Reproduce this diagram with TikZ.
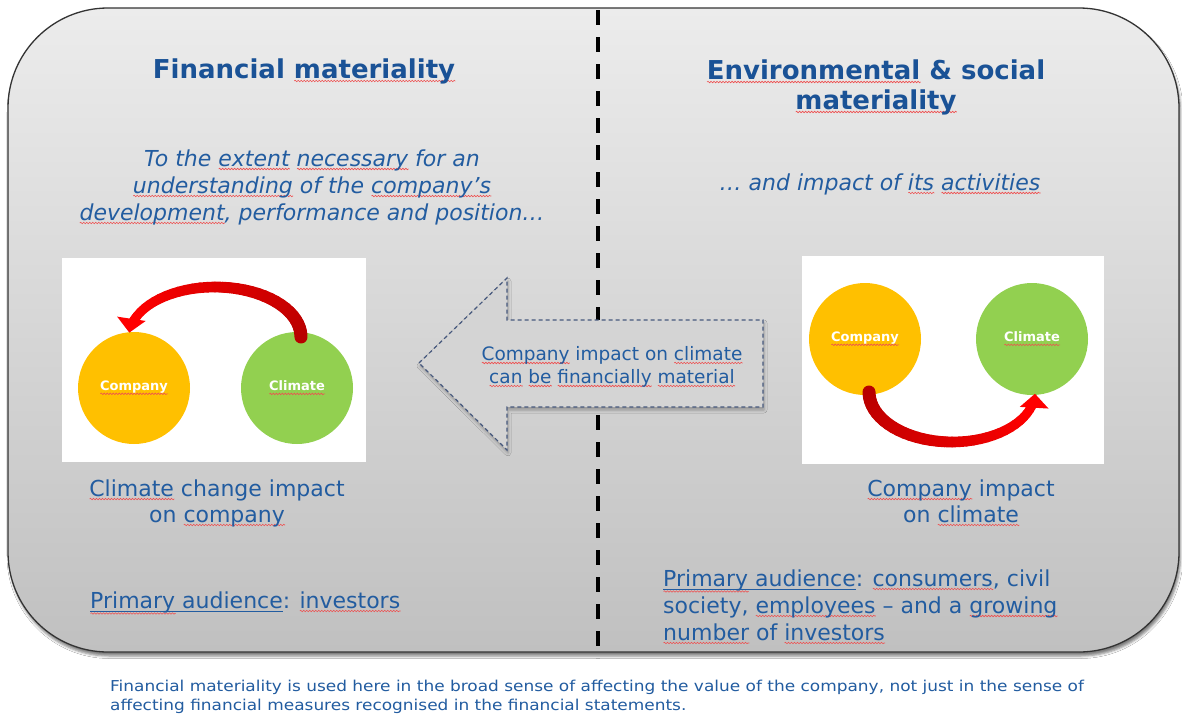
\documentclass[tikz,border=0pt]{standalone}
\usepackage{fontspec}
\setmainfont{DejaVu Sans}[ItalicFont={DejaVu Sans Oblique},BoldFont={DejaVu Sans Bold},BoldItalicFont={DejaVu Sans Bold Oblique}]
\newfontfamily\footfont{DejaVu Sans}[FakeStretch=1.13]
\usetikzlibrary{shadows.blur,arrows.meta,decorations.pathmorphing}
\definecolor{titleblue}{RGB}{26,82,150}
\definecolor{txtblue}{RGB}{34,92,160}
\definecolor{sqred}{RGB}{238,80,80}
\definecolor{bgtop}{RGB}{236,236,236}
\definecolor{bgbot}{RGB}{192,192,192}
\definecolor{arrowfill}{RGB}{212,212,212}
\definecolor{arrowline}{RGB}{70,88,125}
\definecolor{compfill}{RGB}{255,192,0}
\definecolor{climfill}{RGB}{146,208,80}
\newsavebox\sqtmp
\newlength\sqlen
\tikzset{sqline/.style={draw=sqred, fill=none, line width=0.6pt, decorate,
  decoration={snake, amplitude=0.75pt, segment length=3pt}}}
\newcommand\sqat[2]{\begingroup\sbox\sqtmp{#2}\setlength\sqlen{\wd\sqtmp}%
  \rlap{\tikz[baseline=0pt]{\draw[sqline] (0pt,-#1) -- (\sqlen,-#1);}}\usebox\sqtmp\endgroup}
\newcommand\sq[1]{\sqat{3pt}{#1}}
\newcommand\ulin[1]{\begingroup\sbox\sqtmp{#1}\rlap{\vrule height -2.6pt depth 3.8pt width \wd\sqtmp}\usebox\sqtmp\endgroup}
\tikzset{
  ttl/.style={font=\fontsize{26}{30}\selectfont\bfseries, text=titleblue, anchor=base, inner sep=0pt},
  itx/.style={font=\fontsize{22}{27}\selectfont\itshape, text=txtblue, anchor=base, inner sep=0pt},
  rtx/.style={font=\fontsize{22}{27}\selectfont, text=txtblue, anchor=base, inner sep=0pt},
  ltx/.style={rtx, anchor=base west},
  atx/.style={font=\fontsize{18.5}{23}\selectfont, text=txtblue, anchor=base, inner sep=0pt},
  ftx/.style={font=\footfont\fontsize{15}{19}\selectfont, text=txtblue, anchor=base west, inner sep=0pt},
  imgbox/.style={fill=white, draw=none},
  ball/.style={circle, minimum size=112pt, inner sep=0pt, text=white, font=\fontsize{13}{15}\selectfont\bfseries},
}
\begin{document}
\begin{tikzpicture}[x=1pt,y=-1pt]
\useasboundingbox (0,0) rectangle (1182,715);
\fill[white] (0,0) rectangle (1182,715);
% main panel
\draw[draw=black!80, line width=1.3pt, rounded corners=100pt, top color=bgtop, bottom color=bgbot,
      blur shadow={shadow xshift=1.5pt, shadow yshift=-4pt, shadow blur radius=2.5pt, shadow opacity=50}]
  (8,8) rectangle (1179,652);
% divider
\coordinate (dtop) at (598,10);
\coordinate (dbot) at (598,658);
\draw[line width=3.5pt, dash pattern=on 15pt off 12pt] (dtop) -- (dbot);
% titles
\node[ttl] (t1) at (304,78) {Financial \sq{materiality}};
\node[ttl] (t2a) at (876,79) {\sq{Environmental} \& social};
\node[ttl] (t2b) at (876,109) {\sq{materiality}};
% italic texts
\node[itx] (i1) at (312,166) {To the \sq{extent} \sq{necessary} for an};
\node[itx] (i2) at (312,193) {\sq{understanding} of the \sq{company’s}};
\node[itx] (i3) at (312,220) {\sq{development}, performance and position…};
\node[itx] (i4) at (880,190) {… and impact of \sq{its} \sq{activities}};
% image boxes
\fill[imgbox] (62,258) rectangle (366,462);
\fill[imgbox] (802,256) rectangle (1104,464);
% left diagram
\node[ball, fill=compfill] (lcomp) at (134,388) {\sq{Company}};
\node[ball, fill=climfill] (lclim) at (297,388) {\sq{Climate}};
\foreach \i in {0,...,31}{
  \pgfmathsetmacro\ta{-5*\i}
  \pgfmathsetmacro\tb{-5*\i-5}
  \pgfmathtruncatemacro\p{72+28*\i/31}
  \pgfmathsetmacro\w{13-4*\i/31}
  \draw[line width=\w pt, draw={red!\p!black}, line cap=round]
    ({215+86*cos(\ta)},{337+50*sin(\ta)}) -- ({215+86*cos(\tb)},{337+50*sin(\tb)});
}
\draw[line width=9pt, red, -{Triangle[width=28pt,length=14pt]}]
  ({215+86*cos(-155)},{337+50*sin(-155)}) arc[start angle=-155, end angle=-175, x radius=86, y radius=50];
% right diagram
\node[ball, fill=compfill] (rcomp) at (865,339) {\sq{Company}};
\node[ball, fill=climfill] (rclim) at (1032,339) {\sq{Climate}};
\foreach \i in {0,...,31}{
  \pgfmathsetmacro\ta{180-5*\i}
  \pgfmathsetmacro\tb{180-5*\i-5}
  \pgfmathtruncatemacro\p{72+28*\i/31}
  \pgfmathsetmacro\w{13-4*\i/31}
  \draw[line width=\w pt, draw={red!\p!black}, line cap=round]
    ({952+83*cos(\ta)},{392+50*sin(\ta)}) -- ({952+83*cos(\tb)},{392+50*sin(\tb)});
}
\draw[line width=9pt, red, -{Triangle[width=28pt,length=14pt]}]
  ({952+83*cos(22)},{392+50*sin(22)}) arc[start angle=22, end angle=2, x radius=83, y radius=50];
% captions
\node[rtx] (c1a) at (217,496) {\sq{Climate} change impact};
\node[rtx] (c1b) at (217,522) {on \sq{company}};
\node[rtx] (c2a) at (961,496) {\sq{Company} impact};
\node[rtx] (c2b) at (961,522) {on \sq{climate}};
% central arrow
\draw[fill=arrowfill, draw=arrowline, line width=1.2pt, dash pattern=on 4pt off 3pt,
      blur shadow={shadow xshift=1pt, shadow yshift=-3pt, shadow blur radius=3pt, shadow opacity=30}]
  (419,363) -- (507,278) -- (507,320) -- (763,320) -- (763,407) -- (507,407) -- (507,450) -- cycle;
\node[atx] (a1) at (612,360) {\sq{Company} impact on \sq{climate}};
\node[atx] (a2) at (612,383) {\sq{can} \sq{be} \sq{financially} \sq{material}};
% audiences
\node[ltx] (p1) at (90,608) {\ulin{\sqat{5.5pt}{Primary} audience}: \sq{investors}};
\node[ltx] (p2a) at (663,586) {\ulin{\sqat{5.5pt}{Primary} audience}: \sq{consumers}, civil};
\node[ltx] (p2b) at (663,613) {society, \sq{employees} – and a \sq{growing}};
\node[ltx] (p2c) at (663,640) {\sq{number} of \sq{investors}};
% footer
\node[ftx] (f1) at (110,691) {Financial materiality is used here in the broad sense of affecting the value of the company, not just in the sense of};
\node[ftx] (f2) at (110,710) {affecting financial measures recognised in the financial statements.};
\end{tikzpicture}
\end{document}
